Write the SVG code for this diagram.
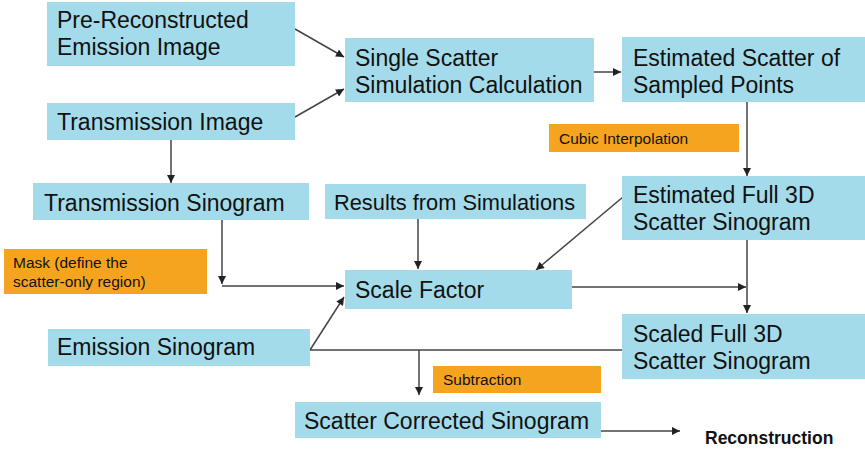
<svg xmlns="http://www.w3.org/2000/svg" width="865" height="454" viewBox="0 0 865 454">
<defs>
<style>
.b{fill:#a4dbea}
.o{fill:#f5a420}
.t{font-family:"Liberation Sans",Arial,sans-serif;font-size:23px;fill:#111}
.s{font-family:"Liberation Sans",Arial,sans-serif;font-size:15.5px;fill:#111}
.r{font-family:"Liberation Sans",Arial,sans-serif;font-size:17.5px;font-weight:bold;fill:#111}
.c{fill:none;stroke:#444;stroke-width:1.5}
</style>
<marker id="ah" viewBox="0 0 10 10" refX="10" refY="5" markerWidth="9" markerHeight="8" markerUnits="userSpaceOnUse" orient="auto">
<path d="M0,0 L10,5 L0,10 z" fill="#222"/>
</marker>
</defs>
<rect width="865" height="454" fill="#fff"/>
<g id="connectors">
<line class="c" x1="295" y1="29" x2="344" y2="57" marker-end="url(#ah)"/>
<line class="c" x1="295" y1="117" x2="344" y2="89" marker-end="url(#ah)"/>
<line class="c" x1="594" y1="72" x2="621" y2="72" marker-end="url(#ah)"/>
<line class="c" x1="747" y1="102" x2="747" y2="176" marker-end="url(#ah)"/>
<line class="c" x1="171" y1="140" x2="171" y2="183" marker-end="url(#ah)"/>
<line class="c" x1="222" y1="220" x2="222" y2="284" marker-end="url(#ah)"/>
<line class="c" x1="222" y1="286" x2="344" y2="286" marker-end="url(#ah)"/>
<line class="c" x1="418" y1="219" x2="418" y2="269" marker-end="url(#ah)"/>
<line class="c" x1="623" y1="197" x2="536" y2="270" marker-end="url(#ah)"/>
<line class="c" x1="572" y1="287" x2="746" y2="287" marker-end="url(#ah)"/>
<line class="c" x1="747" y1="240" x2="747" y2="313" marker-end="url(#ah)"/>
<line class="c" x1="310" y1="350" x2="622" y2="350"/>
<line class="c" x1="310" y1="350" x2="344" y2="297" marker-end="url(#ah)"/>
<line class="c" x1="419" y1="350" x2="419" y2="395" marker-end="url(#ah)"/>
<line class="c" x1="601" y1="431" x2="680" y2="431" marker-end="url(#ah)"/>
</g>
<g id="pre-reconstructed">
<rect class="b" x="47" y="2" width="248" height="64"/>
<text class="t" x="57" y="28">Pre-Reconstructed</text>
<text class="t" x="57" y="55">Emission Image</text>
</g>
<g id="transmission-image">
<rect class="b" x="47" y="103" width="248" height="37"/>
<text class="t" x="57" y="130">Transmission Image</text>
</g>
<g id="single-scatter">
<rect class="b" x="345" y="38" width="249" height="64"/>
<text class="t" x="355" y="66">Single Scatter</text>
<text class="t" x="355" y="93">Simulation Calculation</text>
</g>
<g id="estimated-scatter">
<rect class="b" x="622" y="37" width="243" height="65"/>
<text class="t" x="633" y="66">Estimated Scatter of</text>
<text class="t" x="633" y="93">Sampled Points</text>
</g>
<g id="cubic-interpolation">
<rect class="o" x="549" y="124" width="190" height="28"/>
<text class="s" x="559" y="144">Cubic Interpolation</text>
</g>
<g id="transmission-sinogram">
<rect class="b" x="33" y="183" width="276" height="37"/>
<text class="t" x="44" y="211">Transmission Sinogram</text>
</g>
<g id="results-simulations">
<rect class="b" x="325" y="184" width="261" height="35"/>
<text class="t" x="334" y="210" style="font-size:21.8px">Results from Simulations</text>
</g>
<g id="estimated-full">
<rect class="b" x="622" y="176" width="243" height="64"/>
<text class="t" x="633" y="203">Estimated Full 3D</text>
<text class="t" x="633" y="230">Scatter Sinogram</text>
</g>
<g id="mask">
<rect class="o" x="4" y="249" width="203" height="45"/>
<text class="s" x="13" y="268">Mask (define the</text>
<text class="s" x="13" y="287">scatter-only region)</text>
</g>
<g id="scale-factor">
<rect class="b" x="345" y="270" width="227" height="39"/>
<text class="t" x="355" y="298">Scale Factor</text>
</g>
<g id="emission-sinogram">
<rect class="b" x="48" y="329" width="262" height="37"/>
<text class="t" x="57" y="355">Emission Sinogram</text>
</g>
<g id="scaled-full">
<rect class="b" x="622" y="314" width="243" height="65"/>
<text class="t" x="633" y="342">Scaled Full 3D</text>
<text class="t" x="633" y="369">Scatter Sinogram</text>
</g>
<g id="subtraction">
<rect class="o" x="433" y="366" width="168" height="27"/>
<text class="s" x="443" y="385">Subtraction</text>
</g>
<g id="scatter-corrected">
<rect class="b" x="295" y="402" width="306" height="36"/>
<text class="t" x="304" y="429">Scatter Corrected Sinogram</text>
</g>
<g id="reconstruction">
<text class="r" x="705" y="444">Reconstruction</text>
</g>
</svg>
